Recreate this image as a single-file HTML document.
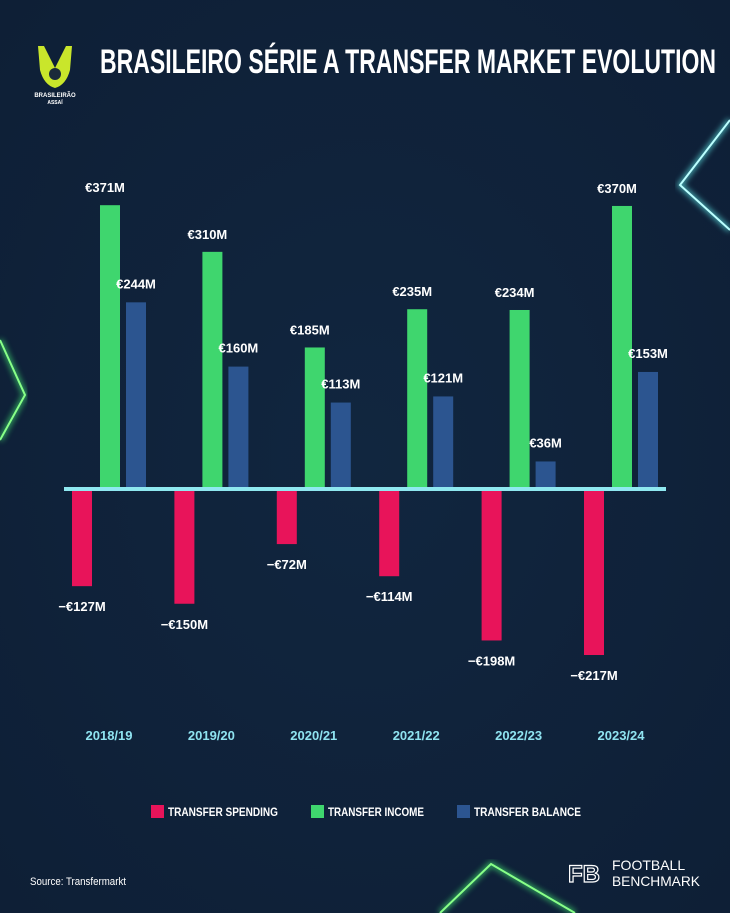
<!DOCTYPE html>
<html><head><meta charset="utf-8"><style>
html,body{margin:0;padding:0;background:#0f2139;}
svg{display:block;font-family:"Liberation Sans",sans-serif;}
</style></head><body>
<svg width="730" height="913" viewBox="0 0 730 913" id="chart">
<defs>
<radialGradient id="bg" cx="0.5" cy="0.5" r="0.7"><stop offset="0" stop-color="#11263f"/><stop offset="1" stop-color="#0e1f36"/></radialGradient>
<filter id="glow"><feGaussianBlur stdDeviation="3"/></filter>
</defs>
<rect width="730" height="913" fill="url(#bg)"/>
<g>
<polyline points="730,120 680,185 730,230" fill="none" stroke="#5fe8e8" stroke-width="5" filter="url(#glow)" opacity="0.7"/>
<polyline points="730,120 680,185 730,230" fill="none" stroke="#bff" stroke-width="2"/>
<polyline points="0,340 25,395 0,440" fill="none" stroke="#3fe070" stroke-width="5" filter="url(#glow)" opacity="0.7"/>
<polyline points="0,340 25,395 0,440" fill="none" stroke="#8f8" stroke-width="2"/>
<polyline points="440,913 491,864 575,913" fill="none" stroke="#3fe070" stroke-width="5" filter="url(#glow)" opacity="0.7"/>
<polyline points="440,913 491,864 575,913" fill="none" stroke="#8f8" stroke-width="2"/>
</g>
<g>
<path d="M38,46 L44,46 L55,68 L66,46 L72,46 L70,70 Q66,85 55,88 Q44,85 40,70 Z" fill="#c9e62b"/>
<circle cx="55" cy="74" r="6" fill="#1a2a3a"/>
<text x="55" y="97" font-size="6" font-weight="bold" fill="#fff" text-anchor="middle">BRASILEIRÃO</text>
<text x="55" y="104" font-size="5" font-weight="bold" fill="#fff" text-anchor="middle">ASSAÍ</text>
</g>
<text x="100" y="73" font-size="34" font-weight="bold" fill="#fff" textLength="616" lengthAdjust="spacingAndGlyphs">BRASILEIRO SÉRIE A TRANSFER MARKET EVOLUTION</text>
<g id="bars"></g>
<g>
<g><rect x="151" y="805" width="13" height="13" fill="#e8145a"/><text x="168" y="816" font-size="12" font-weight="bold" fill="#fff" textLength="110" lengthAdjust="spacingAndGlyphs">TRANSFER SPENDING</text></g>
<g><rect x="311" y="805" width="13" height="13" fill="#3fd66e"/><text x="328" y="816" font-size="12" font-weight="bold" fill="#fff" textLength="96" lengthAdjust="spacingAndGlyphs">TRANSFER INCOME</text></g>
<g><rect x="457" y="805" width="13" height="13" fill="#2c5590"/><text x="474" y="816" font-size="12" font-weight="bold" fill="#fff" textLength="107" lengthAdjust="spacingAndGlyphs">TRANSFER BALANCE</text></g>
</g>
<text x="30" y="885" font-size="11" fill="#fff" textLength="96" lengthAdjust="spacingAndGlyphs">Source: Transfermarkt</text>
<g>
<text x="568" y="882" font-size="24" font-weight="bold" fill="none" stroke="#fff" stroke-width="1.2">FB</text>
<text x="612" y="870" font-size="14" fill="#fff">FOOTBALL</text>
<text x="612" y="886" font-size="14" fill="#fff" textLength="88" lengthAdjust="spacingAndGlyphs">BENCHMARK</text>
</g>
</svg>
<script>
const seasons = ["2018/19","2019/20","2020/21","2021/22","2022/23","2023/24"];
const spending = [-127,-150,-72,-114,-198,-217];
const income = [371,310,185,235,234,370];
const balance = [244,160,113,121,36,153];
const NS="http://www.w3.org/2000/svg";
const g=document.getElementById('bars');
const base=489, k=0.765;
function y(v){return base - v*k;}
function gx(i){return 72 + i*102.4;}
function mk(t,a){const e=document.createElementNS(NS,t);for(const n in a)e.setAttribute(n,a[n]);g.appendChild(e);return e;}
function lbl(x,yy,s,fill,sz){const t=mk('text',{x:x,y:yy,'font-size':sz||13,'font-weight':'bold',fill:fill||'#fff','text-anchor':'middle'});t.textContent=s;return t;}
seasons.forEach((s,i)=>{
  const x=gx(i);
  let r=mk('rect',{x:x,y:base,width:20,height:-spending[i]*k,fill:'#e8145a'});
  
  
  let t=lbl(x+10,y(spending[i])+25,'−€'+(-spending[i])+'M');
  
  
  r=mk('rect',{x:x+28,y:y(income[i]),width:20,height:income[i]*k,fill:'#3fd66e'});
  
  
  t=lbl(x+33,y(income[i])-13,'€'+income[i]+'M');
  
  
  r=mk('rect',{x:x+54,y:y(balance[i]),width:20,height:balance[i]*k,fill:'#2c5590'});
  
  
  t=lbl(x+64,y(balance[i])-14,'€'+balance[i]+'M');
  
  
  t=lbl(x+37,740,s,'#8fe3f0',13);
  
  
});
const ax=mk('rect',{x:64,y:487,width:602,height:4,fill:'#8fe8f0'});


</script>
</body></html>
